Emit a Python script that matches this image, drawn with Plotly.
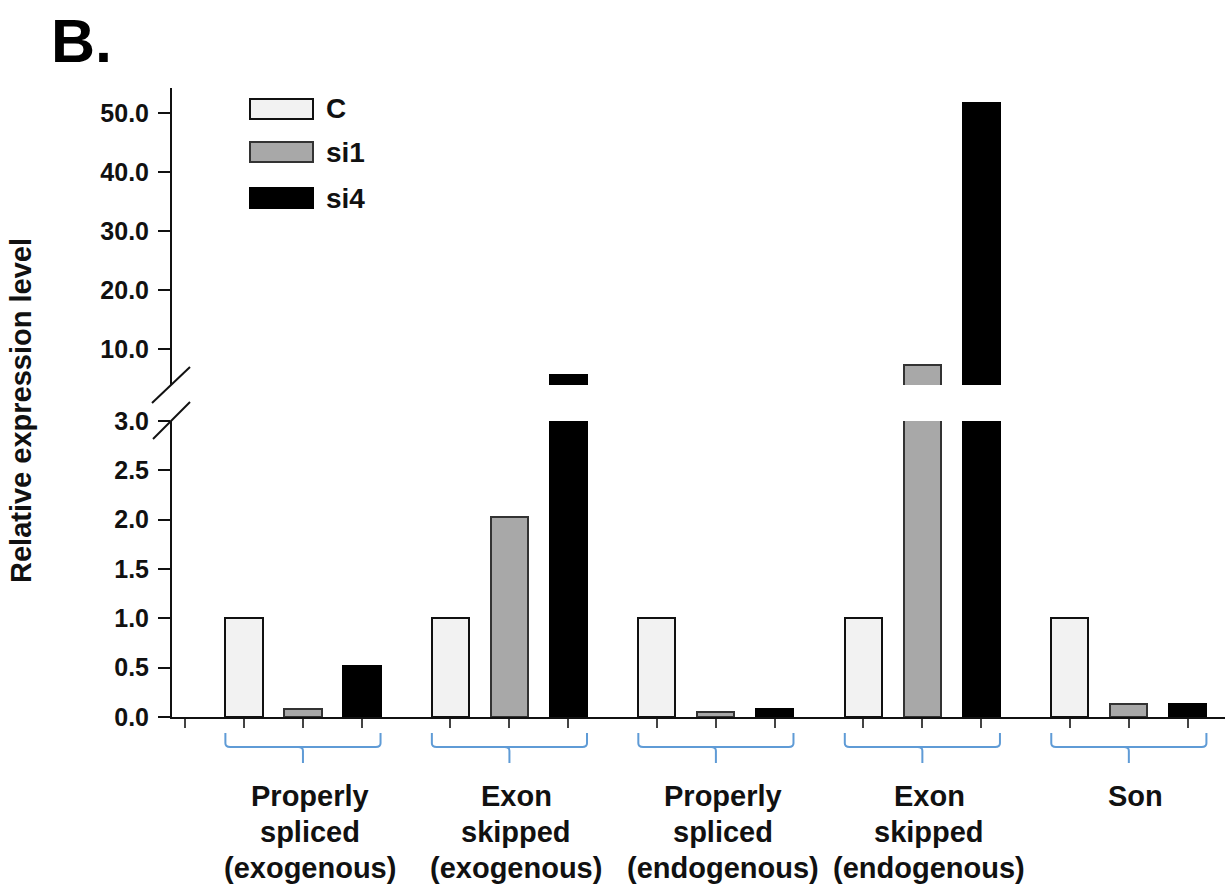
import plotly.graph_objects as go

# ---- data ----
groups = [
    "Properly\nspliced\n(exogenous)",
    "Exon\nskipped\n(exogenous)",
    "Properly\nspliced\n(endogenous)",
    "Exon\nskipped\n(endogenous)",
    "Son",
]
series_names = ["C", "si1", "si4"]
c_values = [1.0, 1.0, 1.0, 1.0, 1.0]
si1_values = [0.08, 2.03, 0.05, 7.3, 0.13]
si4_values = [0.52, 5.6, 0.08, 51.7, 0.13]

lower_ticks = [0.0, 0.5, 1.0, 1.5, 2.0, 2.5, 3.0]
upper_ticks = [10, 20, 30, 40, 50]

# ---- styling / geometry ----
W, H = 1225, 888
ML, MR, MT, MB = 172, 0, 88, 171
FONT = "Liberation Sans, Arial, Helvetica, sans-serif"
fills = ["#f2f2f2", "#a8a8a8", "#000000"]
edges = ["#111111", "#333333", "#000000"]
BAR_W = 0.63
GROUP_STEP = 3.5
LOWER_MAX = 3.0
UPPER_RANGE = [3.9, 54.2]
BRACKET = "#5f9bd6"


def paper_x(px):
    return (px - ML) / (W - ML - MR)


def paper_y(py):
    return (H - MB - py) / (H - MT - MB)


lower_domain = [0, paper_y(421)]
upper_domain = [paper_y(385), 1]

all_series = [c_values, si1_values, si4_values]
positions = [[g * GROUP_STEP + k for g in range(len(groups))] for k in range(3)]

fig = go.Figure()

for k, (name, vals) in enumerate(zip(series_names, all_series)):
    bar_style = dict(color=fills[k], line=dict(color=edges[k], width=2))
    # lower (0 - 3) panel
    fig.add_trace(go.Bar(
        x=positions[k], y=vals, width=BAR_W, name=name,
        marker=bar_style, showlegend=False, yaxis="y",
    ))
    # upper panel: only values that run past the break
    xs = [p for p, v in zip(positions[k], vals) if v > LOWER_MAX]
    ys = [v for v in vals if v > LOWER_MAX]
    if xs:
        fig.add_trace(go.Bar(
            x=xs, y=ys, width=BAR_W, name=name,
            marker=bar_style, showlegend=False, yaxis="y2",
        ))

tick_positions = [-1] + sorted(p for row in positions for p in row)

shapes = []
annotations = []

# axis break marks
for (x0, y0, x1, y1) in [(152, 403, 190, 367), (153, 439, 190, 402)]:
    shapes.append(dict(type="line", xref="paper", yref="paper",
                       x0=paper_x(x0), y0=paper_y(y0), x1=paper_x(x1), y1=paper_y(y1),
                       line=dict(color="#111111", width=2)))

# group brackets and labels
y_top, y_mid, y_tip = paper_y(733), paper_y(747), paper_y(763)
for g, label in enumerate(groups):
    left = positions[0][g] - BAR_W / 2
    right = positions[2][g] + BAR_W / 2
    centre = positions[1][g]
    c = 0.08
    path = (f"M {left},{y_top} L {left},{y_mid + 0.006} Q {left},{y_mid} {left + c},{y_mid} "
            f"L {right - c},{y_mid} Q {right},{y_mid} {right},{y_mid + 0.006} L {right},{y_top} "
            f"M {centre - c},{y_mid} Q {centre},{y_mid} {centre},{y_mid - 0.006} L {centre},{y_tip}")
    shapes.append(dict(type="path", xref="x", yref="paper", path=path,
                       line=dict(color=BRACKET, width=2)))
    for i, line in enumerate(label.split("\n")):
        annotations.append(dict(
            x=centre, y=paper_y(796 + i * 36), xref="x", yref="paper",
            text=f"<b>{line}</b>", showarrow=False, xshift=7,
            xanchor="center", yanchor="middle",
            font=dict(family=FONT, size=29, color="#111111"),
        ))

# legend drawn as boxes + labels
legend_rows = [109, 152, 198]
for k, name in enumerate(series_names):
    yc = legend_rows[k]
    shapes.append(dict(type="rect", xref="paper", yref="paper",
                       x0=paper_x(250), x1=paper_x(313),
                       y0=paper_y(yc + 10), y1=paper_y(yc - 10),
                       fillcolor=fills[k], line=dict(color=edges[k], width=2)))
    annotations.append(dict(
        x=paper_x(324), y=paper_y(yc), xref="paper", yref="paper",
        text=f"<b>{name}</b>", showarrow=False, xanchor="left", yanchor="middle",
        font=dict(family=FONT, size=28, color="#111111"),
    ))

# panel letter
annotations.append(dict(
    x=paper_x(49), y=paper_y(41), xref="paper", yref="paper",
    text="<b>B.</b>", showarrow=False, xanchor="left", yanchor="middle",
    font=dict(family=FONT, size=61, color="#000000"),
))

# y-axis title
annotations.append(dict(
    x=paper_x(21), y=paper_y(411), xref="paper", yref="paper",
    text="<b>Relative expression level</b>", showarrow=False, textangle=-90,
    xanchor="center", yanchor="middle",
    font=dict(family=FONT, size=29, color="#111111"),
))

axis_font = dict(family=FONT, size=25, color="#111111")

fig.update_layout(
    width=W, height=H,
    margin=dict(l=ML, r=MR, t=MT, b=MB, pad=0),
    paper_bgcolor="white", plot_bgcolor="white",
    barmode="overlay", bargap=0,
    showlegend=False,
    shapes=shapes, annotations=annotations,
    xaxis=dict(
        range=[-1.22, 16.63], showgrid=False, zeroline=False,
        showline=True, linecolor="#111111", linewidth=2,
        tickmode="array", tickvals=tick_positions, ticktext=[""] * len(tick_positions),
        ticks="outside", ticklen=9, tickwidth=2, tickcolor="#444444",
        anchor="y",
    ),
    yaxis=dict(
        domain=lower_domain, range=[0, LOWER_MAX], showgrid=False, zeroline=False,
        showline=True, linecolor="#111111", linewidth=2,
        tickmode="array", tickvals=lower_ticks,
        ticktext=[f"<b>{v:.1f}</b>" for v in lower_ticks],
        ticks="outside", ticklen=12, tickwidth=2, tickcolor="#111111",
        tickfont=axis_font, ticklabelstandoff=4, anchor="x",
    ),
    yaxis2=dict(
        domain=upper_domain, range=UPPER_RANGE, showgrid=False, zeroline=False,
        showline=True, linecolor="#111111", linewidth=2,
        tickmode="array", tickvals=upper_ticks,
        ticktext=[f"<b>{v:.1f}</b>" for v in upper_ticks],
        ticks="outside", ticklen=12, tickwidth=2, tickcolor="#111111",
        tickfont=axis_font, ticklabelstandoff=4, anchor="x",
    ),
)

fig.write_html("out.html")
